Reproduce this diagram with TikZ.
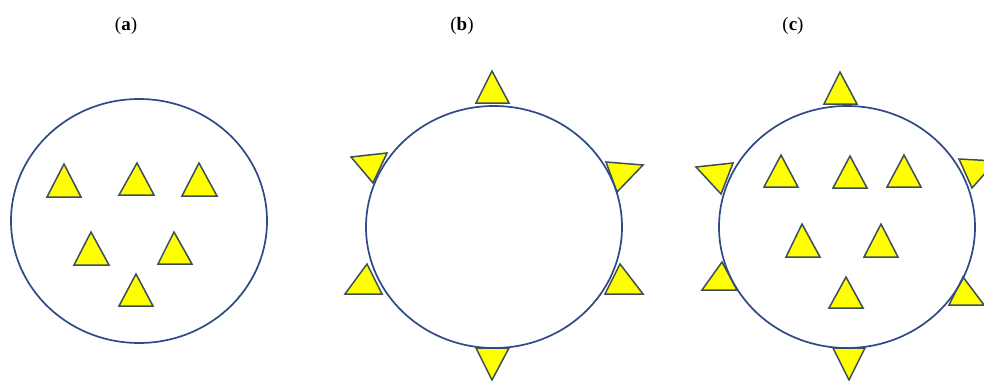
\documentclass[tikz,border=0pt]{standalone}
\usepackage{fontspec}
\setmainfont{Liberation Serif}
\definecolor{ringblue}{HTML}{2F4A86}
\definecolor{triedge}{HTML}{3C4E5C}
\definecolor{triyellow}{HTML}{FFFF00}
\tikzset{
  ring/.style={draw=ringblue, line width=1.7pt},
  tri/.style={draw=triedge, fill=triyellow, line width=1.5pt, line join=miter},
  lab/.style={font=\fontsize{19}{22}\selectfont, inner sep=0pt}
}
\newcommand\tri[3]{\draw[tri] (#1) -- (#2) -- (#3) -- cycle;}
\begin{document}
\begin{tikzpicture}[x=1pt,y=-1pt]
\useasboundingbox (0,0) rectangle (984,380);
\clip (0,0) rectangle (984,380);
\fill[white] (0,0) rectangle (984,380);
% labels
\node[lab] (la) at (126,26) {(\textbf{a})};
\node[lab] (lb) at (462,26) {(\textbf{b})};
\node[lab] (lc) at (793,26) {(\textbf{c})};
% (a)
\draw[ring] (139,221) ellipse [x radius=128, y radius=122];
\tri{64,164}{47,197}{81,197}
\tri{137,163}{119,195}{154,195}
\tri{199,163}{182,196}{217,196}
\tri{91,232}{74,265}{109,265}
\tri{174,232}{158,264}{192,264}
\tri{136,274}{119,306}{153,306}
% (b)
\tri{492,71}{476,103}{509,103}
\tri{476,348}{509,348}{492,380}
\tri{351,157}{387,153}{373,183}
\tri{606,162}{643,165}{617,192}
\tri{367,264}{345,294}{382,294}
\tri{620,264}{605,294}{643,294}
\draw[ring] (494,227) ellipse [x radius=128, y radius=121];
% (c)
\tri{840,72}{824,104}{857,104}
\tri{833,348}{865,348}{849,380}
\tri{696,167}{733,163}{721,194}
\tri{959,159}{996,161}{972,188}
\tri{722,262}{702,290}{737,290}
\tri{963,277}{949,305}{984,305}
\draw[ring] (847,227) ellipse [x radius=128, y radius=121];
\tri{781,155}{764,187}{798,187}
\tri{850,156}{833,188}{867,188}
\tri{904,155}{887,187}{921,187}
\tri{802,224}{786,257}{820,257}
\tri{881,224}{864,257}{898,257}
\tri{846,277}{829,308}{863,308}
\end{tikzpicture}
\end{document}
